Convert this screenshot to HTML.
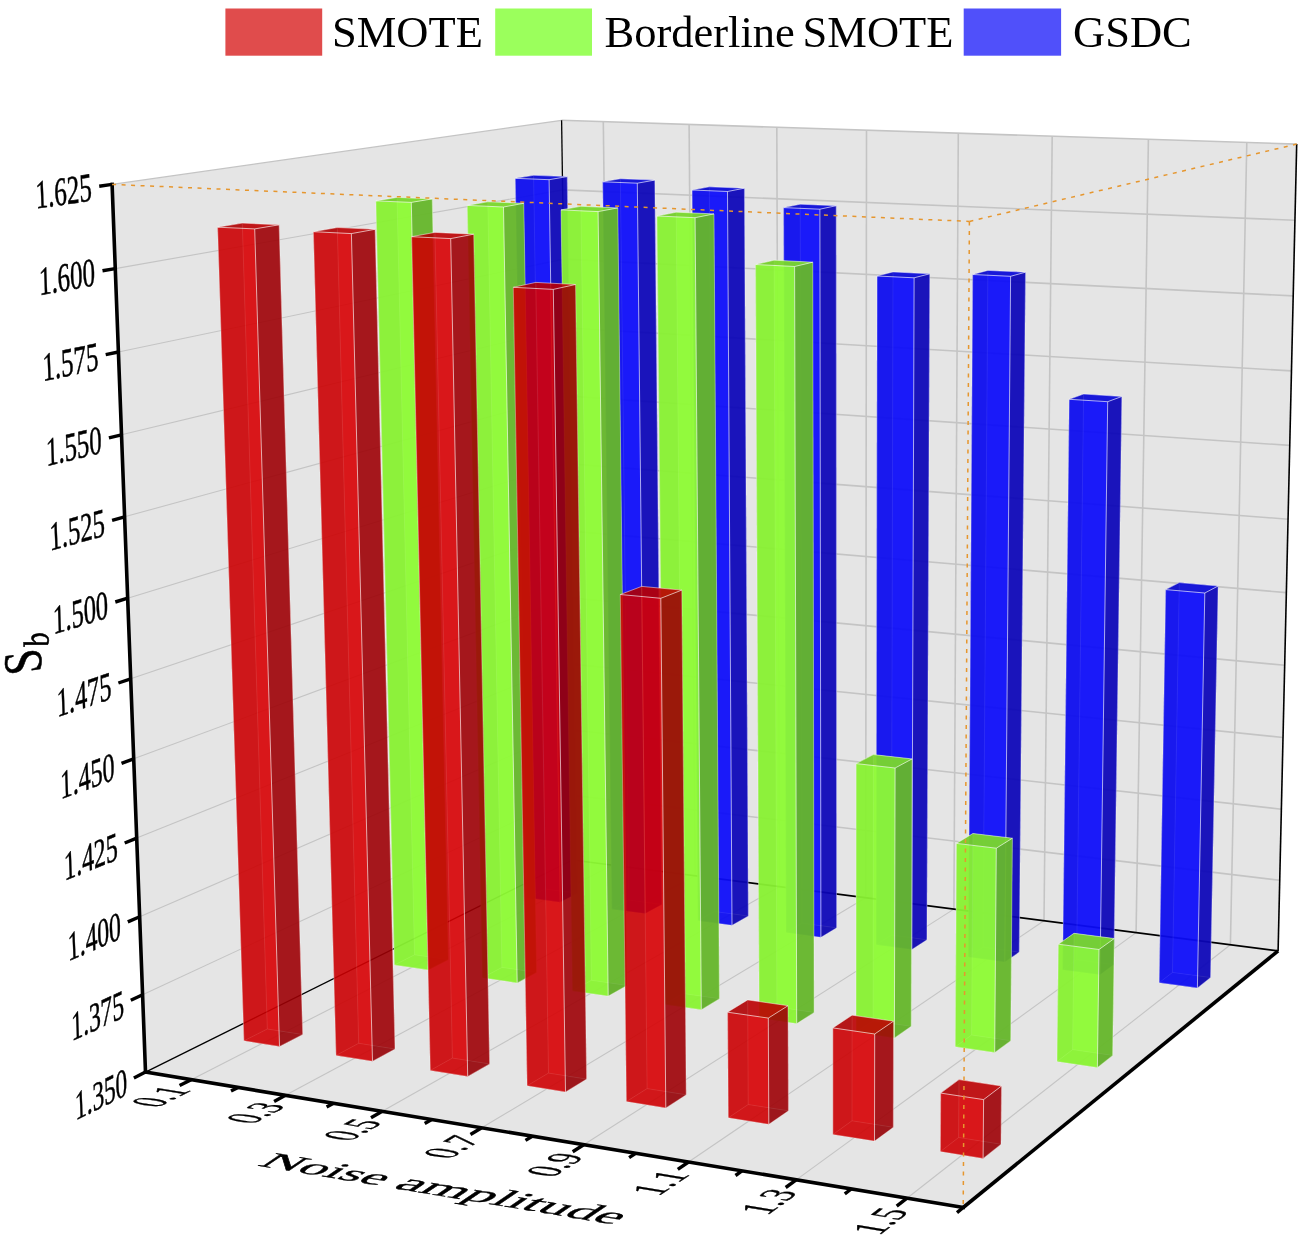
<!DOCTYPE html>
<html><head><meta charset="utf-8"><title>3D bar chart</title>
<style>html,body{margin:0;padding:0;background:#fff}svg{display:block}text{font-family:"Liberation Serif","Times New Roman",serif;fill:#000}</style>
</head><body>
<svg width="1301" height="1239" viewBox="0 0 1301 1239">
<rect width="1301" height="1239" fill="#fff"/>
<polygon points="145.5,1072.1 572.4,860.0 561.6,120.3 112.1,184.4" fill="#e5e5e5" />
<polygon points="572.4,860.0 1278.1,950.9 1296.7,144.1 561.6,120.3" fill="#e5e5e5" />
<polygon points="145.5,1072.1 963.2,1207.5 1278.1,950.9 572.4,860.0" fill="#e5e5e5" />
<line x1="142.6" y1="994.8" x2="571.5" y2="795.1" stroke="#c4c4c4" stroke-width="1.1" />
<line x1="571.5" y1="795.1" x2="1279.7" y2="880.3" stroke="#c4c4c4" stroke-width="1.6" />
<line x1="139.7" y1="916.8" x2="570.5" y2="729.7" stroke="#c4c4c4" stroke-width="1.1" />
<line x1="570.5" y1="729.7" x2="1281.4" y2="809.2" stroke="#c4c4c4" stroke-width="1.6" />
<line x1="136.7" y1="838.1" x2="569.6" y2="663.9" stroke="#c4c4c4" stroke-width="1.1" />
<line x1="569.6" y1="663.9" x2="1283.0" y2="737.5" stroke="#c4c4c4" stroke-width="1.6" />
<line x1="133.7" y1="758.8" x2="568.6" y2="597.6" stroke="#c4c4c4" stroke-width="1.1" />
<line x1="568.6" y1="597.6" x2="1284.7" y2="665.3" stroke="#c4c4c4" stroke-width="1.6" />
<line x1="130.7" y1="678.8" x2="567.6" y2="530.9" stroke="#c4c4c4" stroke-width="1.1" />
<line x1="567.6" y1="530.9" x2="1286.3" y2="592.6" stroke="#c4c4c4" stroke-width="1.6" />
<line x1="127.7" y1="598.2" x2="566.7" y2="463.6" stroke="#c4c4c4" stroke-width="1.1" />
<line x1="566.7" y1="463.6" x2="1288.0" y2="519.2" stroke="#c4c4c4" stroke-width="1.6" />
<line x1="124.6" y1="516.8" x2="565.7" y2="395.9" stroke="#c4c4c4" stroke-width="1.1" />
<line x1="565.7" y1="395.9" x2="1289.7" y2="445.4" stroke="#c4c4c4" stroke-width="1.6" />
<line x1="121.5" y1="434.8" x2="564.7" y2="327.8" stroke="#c4c4c4" stroke-width="1.1" />
<line x1="564.7" y1="327.8" x2="1291.4" y2="370.9" stroke="#c4c4c4" stroke-width="1.6" />
<line x1="118.4" y1="352.0" x2="563.7" y2="259.1" stroke="#c4c4c4" stroke-width="1.1" />
<line x1="563.7" y1="259.1" x2="1293.2" y2="295.9" stroke="#c4c4c4" stroke-width="1.6" />
<line x1="115.3" y1="268.6" x2="562.7" y2="189.9" stroke="#c4c4c4" stroke-width="1.1" />
<line x1="562.7" y1="189.9" x2="1294.9" y2="220.3" stroke="#c4c4c4" stroke-width="1.6" />
<line x1="612.5" y1="865.2" x2="603.3" y2="121.6" stroke="#c4c4c4" stroke-width="1.6" />
<line x1="191.2" y1="1079.7" x2="612.5" y2="865.2" stroke="#c4c4c4" stroke-width="1.1" />
<line x1="695.1" y1="875.8" x2="689.1" y2="124.4" stroke="#c4c4c4" stroke-width="1.6" />
<line x1="285.5" y1="1095.3" x2="695.1" y2="875.8" stroke="#c4c4c4" stroke-width="1.1" />
<line x1="779.5" y1="886.7" x2="776.8" y2="127.3" stroke="#c4c4c4" stroke-width="1.6" />
<line x1="382.3" y1="1111.3" x2="779.5" y2="886.7" stroke="#c4c4c4" stroke-width="1.1" />
<line x1="865.7" y1="897.8" x2="866.5" y2="130.2" stroke="#c4c4c4" stroke-width="1.6" />
<line x1="481.7" y1="1127.8" x2="865.7" y2="897.8" stroke="#c4c4c4" stroke-width="1.1" />
<line x1="953.9" y1="909.1" x2="958.3" y2="133.1" stroke="#c4c4c4" stroke-width="1.6" />
<line x1="583.7" y1="1144.7" x2="953.9" y2="909.1" stroke="#c4c4c4" stroke-width="1.1" />
<line x1="1044.0" y1="920.7" x2="1052.2" y2="136.2" stroke="#c4c4c4" stroke-width="1.6" />
<line x1="688.5" y1="1162.0" x2="1044.0" y2="920.7" stroke="#c4c4c4" stroke-width="1.1" />
<line x1="1136.1" y1="932.6" x2="1148.4" y2="139.3" stroke="#c4c4c4" stroke-width="1.6" />
<line x1="796.2" y1="1179.9" x2="1136.1" y2="932.6" stroke="#c4c4c4" stroke-width="1.1" />
<line x1="1230.4" y1="944.7" x2="1246.8" y2="142.4" stroke="#c4c4c4" stroke-width="1.6" />
<line x1="907.0" y1="1198.2" x2="1230.4" y2="944.7" stroke="#c4c4c4" stroke-width="1.1" />
<line x1="112.1" y1="184.4" x2="561.6" y2="120.3" stroke="#c4c4c4" stroke-width="1.2" />
<line x1="561.6" y1="120.3" x2="1296.7" y2="144.1" stroke="#c4c4c4" stroke-width="1.6" />
<line x1="572.4" y1="860.0" x2="561.6" y2="120.3" stroke="#000" stroke-width="1.3" />
<line x1="145.5" y1="1072.1" x2="572.4" y2="860.0" stroke="#000" stroke-width="1.3" />
<line x1="572.4" y1="860.0" x2="1278.1" y2="950.9" stroke="#000" stroke-width="1.6" />
<line x1="1278.1" y1="950.9" x2="1296.7" y2="144.1" stroke="#000" stroke-width="1.6" />
<g>
<polygon points="527.5,897.8 560.2,902.2 577.5,893.3 545.0,889.0" fill="rgba(10,10,207,0.75)" />
<polygon points="545.0,889.0 577.5,893.3 567.2,176.6 533.6,175.3" fill="rgba(12,12,249,0.75)" />
<polygon points="527.5,897.8 545.0,889.0 533.6,175.3 515.3,178.3" fill="rgba(9,9,194,0.75)" />
<line x1="545.0" y1="889.0" x2="533.6" y2="175.3" stroke="rgba(255,255,255,0.35)" stroke-width="0.8" />
<line x1="527.5" y1="897.8" x2="545.0" y2="889.0" stroke="rgba(255,255,255,0.35)" stroke-width="0.8" />
<line x1="545.0" y1="889.0" x2="577.5" y2="893.3" stroke="rgba(255,255,255,0.35)" stroke-width="0.8" />
<polygon points="527.5,897.8 560.2,902.2 549.1,179.7 515.3,178.3" fill="rgba(12,12,249,0.75)" />
<polygon points="560.2,902.2 577.5,893.3 567.2,176.6 549.1,179.7" fill="rgba(12,4,167,0.75)" />
<polygon points="515.3,178.3 549.1,179.7 567.2,176.6 533.6,175.3" fill="rgba(10,10,207,0.75)" />
<line x1="560.2" y1="902.2" x2="549.1" y2="179.7" stroke="rgba(255,255,255,0.7)" stroke-width="0.9" />
<line x1="515.3" y1="178.3" x2="549.1" y2="179.7" stroke="rgba(255,255,255,0.7)" stroke-width="0.9" />
<line x1="549.1" y1="179.7" x2="567.2" y2="176.6" stroke="rgba(255,255,255,0.7)" stroke-width="0.9" />
<line x1="515.3" y1="178.3" x2="533.6" y2="175.3" stroke="rgba(255,255,255,0.7)" stroke-width="0.7" />
<line x1="533.6" y1="175.3" x2="567.2" y2="176.6" stroke="rgba(255,255,255,0.7)" stroke-width="0.7" />
<line x1="527.5" y1="897.8" x2="515.3" y2="178.3" stroke="rgba(255,255,255,0.45)" stroke-width="0.8" />
<line x1="577.5" y1="893.3" x2="567.2" y2="176.6" stroke="rgba(255,255,255,0.45)" stroke-width="0.8" />
<line x1="527.5" y1="897.8" x2="560.2" y2="902.2" stroke="rgba(255,255,255,0.45)" stroke-width="0.7" />
<line x1="560.2" y1="902.2" x2="577.5" y2="893.3" stroke="rgba(255,255,255,0.45)" stroke-width="0.7" />
</g>
<g>
<polygon points="611.8,909.2 645.2,913.6 661.9,904.6 628.8,900.1" fill="rgba(10,10,207,0.75)" />
<polygon points="628.8,900.1 661.9,904.6 654.8,180.1 620.4,178.7" fill="rgba(12,12,249,0.75)" />
<polygon points="611.8,909.2 628.8,900.1 620.4,178.7 602.7,181.8" fill="rgba(9,9,194,0.75)" />
<line x1="628.8" y1="900.1" x2="620.4" y2="178.7" stroke="rgba(255,255,255,0.35)" stroke-width="0.8" />
<line x1="611.8" y1="909.2" x2="628.8" y2="900.1" stroke="rgba(255,255,255,0.35)" stroke-width="0.8" />
<line x1="628.8" y1="900.1" x2="661.9" y2="904.6" stroke="rgba(255,255,255,0.35)" stroke-width="0.8" />
<polygon points="611.8,909.2 645.2,913.6 637.3,183.2 602.7,181.8" fill="rgba(12,12,249,0.75)" />
<polygon points="645.2,913.6 661.9,904.6 654.8,180.1 637.3,183.2" fill="rgba(12,4,167,0.75)" />
<polygon points="602.7,181.8 637.3,183.2 654.8,180.1 620.4,178.7" fill="rgba(10,10,207,0.75)" />
<line x1="645.2" y1="913.6" x2="637.3" y2="183.2" stroke="rgba(255,255,255,0.7)" stroke-width="0.9" />
<line x1="602.7" y1="181.8" x2="637.3" y2="183.2" stroke="rgba(255,255,255,0.7)" stroke-width="0.9" />
<line x1="637.3" y1="183.2" x2="654.8" y2="180.1" stroke="rgba(255,255,255,0.7)" stroke-width="0.9" />
<line x1="602.7" y1="181.8" x2="620.4" y2="178.7" stroke="rgba(255,255,255,0.7)" stroke-width="0.7" />
<line x1="620.4" y1="178.7" x2="654.8" y2="180.1" stroke="rgba(255,255,255,0.7)" stroke-width="0.7" />
<line x1="611.8" y1="909.2" x2="602.7" y2="181.8" stroke="rgba(255,255,255,0.45)" stroke-width="0.8" />
<line x1="661.9" y1="904.6" x2="654.8" y2="180.1" stroke="rgba(255,255,255,0.45)" stroke-width="0.8" />
<line x1="611.8" y1="909.2" x2="645.2" y2="913.6" stroke="rgba(255,255,255,0.45)" stroke-width="0.7" />
<line x1="645.2" y1="913.6" x2="661.9" y2="904.6" stroke="rgba(255,255,255,0.45)" stroke-width="0.7" />
</g>
<g>
<polygon points="697.9,920.7 732.0,925.3 748.3,916.0 714.4,911.5" fill="rgba(10,10,207,0.75)" />
<polygon points="714.4,911.5 748.3,916.0 744.4,188.2 709.3,186.8" fill="rgba(12,12,249,0.75)" />
<polygon points="697.9,920.7 714.4,911.5 709.3,186.8 692.1,190.0" fill="rgba(9,9,194,0.75)" />
<line x1="714.4" y1="911.5" x2="709.3" y2="186.8" stroke="rgba(255,255,255,0.35)" stroke-width="0.8" />
<line x1="697.9" y1="920.7" x2="714.4" y2="911.5" stroke="rgba(255,255,255,0.35)" stroke-width="0.8" />
<line x1="714.4" y1="911.5" x2="748.3" y2="916.0" stroke="rgba(255,255,255,0.35)" stroke-width="0.8" />
<polygon points="697.9,920.7 732.0,925.3 727.5,191.5 692.1,190.0" fill="rgba(12,12,249,0.75)" />
<polygon points="732.0,925.3 748.3,916.0 744.4,188.2 727.5,191.5" fill="rgba(12,4,167,0.75)" />
<polygon points="692.1,190.0 727.5,191.5 744.4,188.2 709.3,186.8" fill="rgba(10,10,207,0.75)" />
<line x1="732.0" y1="925.3" x2="727.5" y2="191.5" stroke="rgba(255,255,255,0.7)" stroke-width="0.9" />
<line x1="692.1" y1="190.0" x2="727.5" y2="191.5" stroke="rgba(255,255,255,0.7)" stroke-width="0.9" />
<line x1="727.5" y1="191.5" x2="744.4" y2="188.2" stroke="rgba(255,255,255,0.7)" stroke-width="0.9" />
<line x1="692.1" y1="190.0" x2="709.3" y2="186.8" stroke="rgba(255,255,255,0.7)" stroke-width="0.7" />
<line x1="709.3" y1="186.8" x2="744.4" y2="188.2" stroke="rgba(255,255,255,0.7)" stroke-width="0.7" />
<line x1="697.9" y1="920.7" x2="692.1" y2="190.0" stroke="rgba(255,255,255,0.45)" stroke-width="0.8" />
<line x1="748.3" y1="916.0" x2="744.4" y2="188.2" stroke="rgba(255,255,255,0.45)" stroke-width="0.8" />
<line x1="697.9" y1="920.7" x2="732.0" y2="925.3" stroke="rgba(255,255,255,0.45)" stroke-width="0.7" />
<line x1="732.0" y1="925.3" x2="748.3" y2="916.0" stroke="rgba(255,255,255,0.45)" stroke-width="0.7" />
</g>
<g>
<polygon points="786.0,932.6 820.9,937.3 836.6,927.8 801.9,923.2" fill="rgba(10,10,207,0.75)" />
<polygon points="801.9,923.2 836.6,927.8 836.2,205.7 800.2,204.2" fill="rgba(12,12,249,0.75)" />
<polygon points="786.0,932.6 801.9,923.2 800.2,204.2 783.6,207.6" fill="rgba(9,9,194,0.75)" />
<line x1="801.9" y1="923.2" x2="800.2" y2="204.2" stroke="rgba(255,255,255,0.35)" stroke-width="0.8" />
<line x1="786.0" y1="932.6" x2="801.9" y2="923.2" stroke="rgba(255,255,255,0.35)" stroke-width="0.8" />
<line x1="801.9" y1="923.2" x2="836.6" y2="927.8" stroke="rgba(255,255,255,0.35)" stroke-width="0.8" />
<polygon points="786.0,932.6 820.9,937.3 819.9,209.2 783.6,207.6" fill="rgba(12,12,249,0.75)" />
<polygon points="820.9,937.3 836.6,927.8 836.2,205.7 819.9,209.2" fill="rgba(12,4,167,0.75)" />
<polygon points="783.6,207.6 819.9,209.2 836.2,205.7 800.2,204.2" fill="rgba(10,10,207,0.75)" />
<line x1="820.9" y1="937.3" x2="819.9" y2="209.2" stroke="rgba(255,255,255,0.7)" stroke-width="0.9" />
<line x1="783.6" y1="207.6" x2="819.9" y2="209.2" stroke="rgba(255,255,255,0.7)" stroke-width="0.9" />
<line x1="819.9" y1="209.2" x2="836.2" y2="205.7" stroke="rgba(255,255,255,0.7)" stroke-width="0.9" />
<line x1="783.6" y1="207.6" x2="800.2" y2="204.2" stroke="rgba(255,255,255,0.7)" stroke-width="0.7" />
<line x1="800.2" y1="204.2" x2="836.2" y2="205.7" stroke="rgba(255,255,255,0.7)" stroke-width="0.7" />
<line x1="786.0" y1="932.6" x2="783.6" y2="207.6" stroke="rgba(255,255,255,0.45)" stroke-width="0.8" />
<line x1="836.6" y1="927.8" x2="836.2" y2="205.7" stroke="rgba(255,255,255,0.45)" stroke-width="0.8" />
<line x1="786.0" y1="932.6" x2="820.9" y2="937.3" stroke="rgba(255,255,255,0.45)" stroke-width="0.7" />
<line x1="820.9" y1="937.3" x2="836.6" y2="927.8" stroke="rgba(255,255,255,0.45)" stroke-width="0.7" />
</g>
<g>
<polygon points="876.1,944.7 911.8,949.5 926.9,939.8 891.4,935.1" fill="rgba(10,10,207,0.75)" />
<polygon points="891.4,935.1 926.9,939.8 929.7,273.8 893.0,271.9" fill="rgba(12,12,249,0.75)" />
<polygon points="876.1,944.7 891.4,935.1 893.0,271.9 877.1,276.0" fill="rgba(9,9,194,0.75)" />
<line x1="891.4" y1="935.1" x2="893.0" y2="271.9" stroke="rgba(255,255,255,0.35)" stroke-width="0.8" />
<line x1="876.1" y1="944.7" x2="891.4" y2="935.1" stroke="rgba(255,255,255,0.35)" stroke-width="0.8" />
<line x1="891.4" y1="935.1" x2="926.9" y2="939.8" stroke="rgba(255,255,255,0.35)" stroke-width="0.8" />
<polygon points="876.1,944.7 911.8,949.5 914.1,277.8 877.1,276.0" fill="rgba(12,12,249,0.75)" />
<polygon points="911.8,949.5 926.9,939.8 929.7,273.8 914.1,277.8" fill="rgba(12,4,167,0.75)" />
<polygon points="877.1,276.0 914.1,277.8 929.7,273.8 893.0,271.9" fill="rgba(10,10,207,0.75)" />
<line x1="911.8" y1="949.5" x2="914.1" y2="277.8" stroke="rgba(255,255,255,0.7)" stroke-width="0.9" />
<line x1="877.1" y1="276.0" x2="914.1" y2="277.8" stroke="rgba(255,255,255,0.7)" stroke-width="0.9" />
<line x1="914.1" y1="277.8" x2="929.7" y2="273.8" stroke="rgba(255,255,255,0.7)" stroke-width="0.9" />
<line x1="877.1" y1="276.0" x2="893.0" y2="271.9" stroke="rgba(255,255,255,0.7)" stroke-width="0.7" />
<line x1="893.0" y1="271.9" x2="929.7" y2="273.8" stroke="rgba(255,255,255,0.7)" stroke-width="0.7" />
<line x1="876.1" y1="944.7" x2="877.1" y2="276.0" stroke="rgba(255,255,255,0.45)" stroke-width="0.8" />
<line x1="926.9" y1="939.8" x2="929.7" y2="273.8" stroke="rgba(255,255,255,0.45)" stroke-width="0.8" />
<line x1="876.1" y1="944.7" x2="911.8" y2="949.5" stroke="rgba(255,255,255,0.45)" stroke-width="0.7" />
<line x1="911.8" y1="949.5" x2="926.9" y2="939.8" stroke="rgba(255,255,255,0.45)" stroke-width="0.7" />
</g>
<g>
<polygon points="968.3,957.1 1004.8,962.0 1019.2,952.1 983.0,947.2" fill="rgba(10,10,207,0.75)" />
<polygon points="983.0,947.2 1019.2,952.1 1025.5,272.2 987.9,270.4" fill="rgba(12,12,249,0.75)" />
<polygon points="968.3,957.1 983.0,947.2 987.9,270.4 972.7,274.5" fill="rgba(9,9,194,0.75)" />
<line x1="983.0" y1="947.2" x2="987.9" y2="270.4" stroke="rgba(255,255,255,0.35)" stroke-width="0.8" />
<line x1="968.3" y1="957.1" x2="983.0" y2="947.2" stroke="rgba(255,255,255,0.35)" stroke-width="0.8" />
<line x1="983.0" y1="947.2" x2="1019.2" y2="952.1" stroke="rgba(255,255,255,0.35)" stroke-width="0.8" />
<polygon points="968.3,957.1 1004.8,962.0 1010.6,276.3 972.7,274.5" fill="rgba(12,12,249,0.75)" />
<polygon points="1004.8,962.0 1019.2,952.1 1025.5,272.2 1010.6,276.3" fill="rgba(12,4,167,0.75)" />
<polygon points="972.7,274.5 1010.6,276.3 1025.5,272.2 987.9,270.4" fill="rgba(10,10,207,0.75)" />
<line x1="1004.8" y1="962.0" x2="1010.6" y2="276.3" stroke="rgba(255,255,255,0.7)" stroke-width="0.9" />
<line x1="972.7" y1="274.5" x2="1010.6" y2="276.3" stroke="rgba(255,255,255,0.7)" stroke-width="0.9" />
<line x1="1010.6" y1="276.3" x2="1025.5" y2="272.2" stroke="rgba(255,255,255,0.7)" stroke-width="0.9" />
<line x1="972.7" y1="274.5" x2="987.9" y2="270.4" stroke="rgba(255,255,255,0.7)" stroke-width="0.7" />
<line x1="987.9" y1="270.4" x2="1025.5" y2="272.2" stroke="rgba(255,255,255,0.7)" stroke-width="0.7" />
<line x1="968.3" y1="957.1" x2="972.7" y2="274.5" stroke="rgba(255,255,255,0.45)" stroke-width="0.8" />
<line x1="1019.2" y1="952.1" x2="1025.5" y2="272.2" stroke="rgba(255,255,255,0.45)" stroke-width="0.8" />
<line x1="968.3" y1="957.1" x2="1004.8" y2="962.0" stroke="rgba(255,255,255,0.45)" stroke-width="0.7" />
<line x1="1004.8" y1="962.0" x2="1019.2" y2="952.1" stroke="rgba(255,255,255,0.45)" stroke-width="0.7" />
</g>
<g>
<polygon points="1062.6,969.8 1100.0,974.8 1113.8,964.6 1076.6,959.7" fill="rgba(10,10,207,0.75)" />
<polygon points="1076.6,959.7 1113.8,964.6 1121.8,396.5 1083.6,394.0" fill="rgba(12,12,249,0.75)" />
<polygon points="1062.6,969.8 1076.6,959.7 1083.6,394.0 1069.2,399.3" fill="rgba(9,9,194,0.75)" />
<line x1="1076.6" y1="959.7" x2="1083.6" y2="394.0" stroke="rgba(255,255,255,0.35)" stroke-width="0.8" />
<line x1="1062.6" y1="969.8" x2="1076.6" y2="959.7" stroke="rgba(255,255,255,0.35)" stroke-width="0.8" />
<line x1="1076.6" y1="959.7" x2="1113.8" y2="964.6" stroke="rgba(255,255,255,0.35)" stroke-width="0.8" />
<polygon points="1062.6,969.8 1100.0,974.8 1107.7,401.7 1069.2,399.3" fill="rgba(12,12,249,0.75)" />
<polygon points="1100.0,974.8 1113.8,964.6 1121.8,396.5 1107.7,401.7" fill="rgba(12,4,167,0.75)" />
<polygon points="1069.2,399.3 1107.7,401.7 1121.8,396.5 1083.6,394.0" fill="rgba(10,10,207,0.75)" />
<line x1="1100.0" y1="974.8" x2="1107.7" y2="401.7" stroke="rgba(255,255,255,0.7)" stroke-width="0.9" />
<line x1="1069.2" y1="399.3" x2="1107.7" y2="401.7" stroke="rgba(255,255,255,0.7)" stroke-width="0.9" />
<line x1="1107.7" y1="401.7" x2="1121.8" y2="396.5" stroke="rgba(255,255,255,0.7)" stroke-width="0.9" />
<line x1="1069.2" y1="399.3" x2="1083.6" y2="394.0" stroke="rgba(255,255,255,0.7)" stroke-width="0.7" />
<line x1="1083.6" y1="394.0" x2="1121.8" y2="396.5" stroke="rgba(255,255,255,0.7)" stroke-width="0.7" />
<line x1="1062.6" y1="969.8" x2="1069.2" y2="399.3" stroke="rgba(255,255,255,0.45)" stroke-width="0.8" />
<line x1="1113.8" y1="964.6" x2="1121.8" y2="396.5" stroke="rgba(255,255,255,0.45)" stroke-width="0.8" />
<line x1="1062.6" y1="969.8" x2="1100.0" y2="974.8" stroke="rgba(255,255,255,0.45)" stroke-width="0.7" />
<line x1="1100.0" y1="974.8" x2="1113.8" y2="964.6" stroke="rgba(255,255,255,0.45)" stroke-width="0.7" />
</g>
<g>
<polygon points="1159.2,982.7 1197.4,987.9 1210.5,977.5 1172.5,972.4" fill="rgba(10,10,207,0.75)" />
<polygon points="1172.5,972.4 1210.5,977.5 1218.1,586.0 1179.3,582.6" fill="rgba(12,12,249,0.75)" />
<polygon points="1159.2,982.7 1172.5,972.4 1179.3,582.6 1165.7,589.6" fill="rgba(9,9,194,0.75)" />
<line x1="1172.5" y1="972.4" x2="1179.3" y2="582.6" stroke="rgba(255,255,255,0.35)" stroke-width="0.8" />
<line x1="1159.2" y1="982.7" x2="1172.5" y2="972.4" stroke="rgba(255,255,255,0.35)" stroke-width="0.8" />
<line x1="1172.5" y1="972.4" x2="1210.5" y2="977.5" stroke="rgba(255,255,255,0.35)" stroke-width="0.8" />
<polygon points="1159.2,982.7 1197.4,987.9 1204.8,593.0 1165.7,589.6" fill="rgba(12,12,249,0.75)" />
<polygon points="1197.4,987.9 1210.5,977.5 1218.1,586.0 1204.8,593.0" fill="rgba(12,4,167,0.75)" />
<polygon points="1165.7,589.6 1204.8,593.0 1218.1,586.0 1179.3,582.6" fill="rgba(10,10,207,0.75)" />
<line x1="1197.4" y1="987.9" x2="1204.8" y2="593.0" stroke="rgba(255,255,255,0.7)" stroke-width="0.9" />
<line x1="1165.7" y1="589.6" x2="1204.8" y2="593.0" stroke="rgba(255,255,255,0.7)" stroke-width="0.9" />
<line x1="1204.8" y1="593.0" x2="1218.1" y2="586.0" stroke="rgba(255,255,255,0.7)" stroke-width="0.9" />
<line x1="1165.7" y1="589.6" x2="1179.3" y2="582.6" stroke="rgba(255,255,255,0.7)" stroke-width="0.7" />
<line x1="1179.3" y1="582.6" x2="1218.1" y2="586.0" stroke="rgba(255,255,255,0.7)" stroke-width="0.7" />
<line x1="1159.2" y1="982.7" x2="1165.7" y2="589.6" stroke="rgba(255,255,255,0.45)" stroke-width="0.8" />
<line x1="1210.5" y1="977.5" x2="1218.1" y2="586.0" stroke="rgba(255,255,255,0.45)" stroke-width="0.8" />
<line x1="1159.2" y1="982.7" x2="1197.4" y2="987.9" stroke="rgba(255,255,255,0.45)" stroke-width="0.7" />
<line x1="1197.4" y1="987.9" x2="1210.5" y2="977.5" stroke="rgba(255,255,255,0.45)" stroke-width="0.7" />
</g>
<g>
<polygon points="394.4,965.0 428.4,969.9 448.4,959.7 414.5,954.8" fill="rgba(118,208,44,0.78)" />
<polygon points="414.5,954.8 448.4,959.7 432.2,198.9 397.0,197.4" fill="rgba(142,251,53,0.78)" />
<polygon points="394.4,965.0 414.5,954.8 397.0,197.4 375.9,200.9" fill="rgba(111,196,41,0.78)" />
<line x1="414.5" y1="954.8" x2="397.0" y2="197.4" stroke="rgba(255,255,255,0.35)" stroke-width="0.8" />
<line x1="394.4" y1="965.0" x2="414.5" y2="954.8" stroke="rgba(255,255,255,0.35)" stroke-width="0.8" />
<line x1="414.5" y1="954.8" x2="448.4" y2="959.7" stroke="rgba(255,255,255,0.35)" stroke-width="0.8" />
<polygon points="394.4,965.0 428.4,969.9 411.3,202.4 375.9,200.9" fill="rgba(142,251,53,0.78)" />
<polygon points="428.4,969.9 448.4,959.7 432.2,198.9 411.3,202.4" fill="rgba(93,168,41,0.78)" />
<polygon points="375.9,200.9 411.3,202.4 432.2,198.9 397.0,197.4" fill="rgba(118,208,44,0.78)" />
<line x1="428.4" y1="969.9" x2="411.3" y2="202.4" stroke="rgba(255,255,255,0.7)" stroke-width="0.9" />
<line x1="375.9" y1="200.9" x2="411.3" y2="202.4" stroke="rgba(255,255,255,0.7)" stroke-width="0.9" />
<line x1="411.3" y1="202.4" x2="432.2" y2="198.9" stroke="rgba(255,255,255,0.7)" stroke-width="0.9" />
<line x1="375.9" y1="200.9" x2="397.0" y2="197.4" stroke="rgba(255,255,255,0.7)" stroke-width="0.7" />
<line x1="397.0" y1="197.4" x2="432.2" y2="198.9" stroke="rgba(255,255,255,0.7)" stroke-width="0.7" />
<line x1="394.4" y1="965.0" x2="375.9" y2="200.9" stroke="rgba(255,255,255,0.45)" stroke-width="0.8" />
<line x1="448.4" y1="959.7" x2="432.2" y2="198.9" stroke="rgba(255,255,255,0.45)" stroke-width="0.8" />
<line x1="394.4" y1="965.0" x2="428.4" y2="969.9" stroke="rgba(255,255,255,0.45)" stroke-width="0.7" />
<line x1="428.4" y1="969.9" x2="448.4" y2="959.7" stroke="rgba(255,255,255,0.45)" stroke-width="0.7" />
</g>
<g>
<polygon points="482.3,977.8 517.2,982.9 536.6,972.4 501.9,967.4" fill="rgba(118,208,44,0.78)" />
<polygon points="501.9,967.4 536.6,972.4 523.8,203.3 487.8,201.8" fill="rgba(142,251,53,0.78)" />
<polygon points="482.3,977.8 501.9,967.4 487.8,201.8 467.3,205.4" fill="rgba(111,196,41,0.78)" />
<line x1="501.9" y1="967.4" x2="487.8" y2="201.8" stroke="rgba(255,255,255,0.35)" stroke-width="0.8" />
<line x1="482.3" y1="977.8" x2="501.9" y2="967.4" stroke="rgba(255,255,255,0.35)" stroke-width="0.8" />
<line x1="501.9" y1="967.4" x2="536.6" y2="972.4" stroke="rgba(255,255,255,0.35)" stroke-width="0.8" />
<polygon points="482.3,977.8 517.2,982.9 503.5,207.0 467.3,205.4" fill="rgba(142,251,53,0.78)" />
<polygon points="517.2,982.9 536.6,972.4 523.8,203.3 503.5,207.0" fill="rgba(93,168,41,0.78)" />
<polygon points="467.3,205.4 503.5,207.0 523.8,203.3 487.8,201.8" fill="rgba(118,208,44,0.78)" />
<line x1="517.2" y1="982.9" x2="503.5" y2="207.0" stroke="rgba(255,255,255,0.7)" stroke-width="0.9" />
<line x1="467.3" y1="205.4" x2="503.5" y2="207.0" stroke="rgba(255,255,255,0.7)" stroke-width="0.9" />
<line x1="503.5" y1="207.0" x2="523.8" y2="203.3" stroke="rgba(255,255,255,0.7)" stroke-width="0.9" />
<line x1="467.3" y1="205.4" x2="487.8" y2="201.8" stroke="rgba(255,255,255,0.7)" stroke-width="0.7" />
<line x1="487.8" y1="201.8" x2="523.8" y2="203.3" stroke="rgba(255,255,255,0.7)" stroke-width="0.7" />
<line x1="482.3" y1="977.8" x2="467.3" y2="205.4" stroke="rgba(255,255,255,0.45)" stroke-width="0.8" />
<line x1="536.6" y1="972.4" x2="523.8" y2="203.3" stroke="rgba(255,255,255,0.45)" stroke-width="0.8" />
<line x1="482.3" y1="977.8" x2="517.2" y2="982.9" stroke="rgba(255,255,255,0.45)" stroke-width="0.7" />
<line x1="517.2" y1="982.9" x2="536.6" y2="972.4" stroke="rgba(255,255,255,0.45)" stroke-width="0.7" />
</g>
<g>
<polygon points="572.4,990.9 608.2,996.1 626.9,985.4 591.4,980.3" fill="rgba(118,208,44,0.78)" />
<polygon points="591.4,980.3 626.9,985.4 617.8,207.9 580.9,206.3" fill="rgba(142,251,53,0.78)" />
<polygon points="572.4,990.9 591.4,980.3 580.9,206.3 561.0,209.9" fill="rgba(111,196,41,0.78)" />
<line x1="591.4" y1="980.3" x2="580.9" y2="206.3" stroke="rgba(255,255,255,0.35)" stroke-width="0.8" />
<line x1="572.4" y1="990.9" x2="591.4" y2="980.3" stroke="rgba(255,255,255,0.35)" stroke-width="0.8" />
<line x1="591.4" y1="980.3" x2="626.9" y2="985.4" stroke="rgba(255,255,255,0.35)" stroke-width="0.8" />
<polygon points="572.4,990.9 608.2,996.1 598.1,211.6 561.0,209.9" fill="rgba(142,251,53,0.78)" />
<polygon points="608.2,996.1 626.9,985.4 617.8,207.9 598.1,211.6" fill="rgba(93,168,41,0.78)" />
<polygon points="561.0,209.9 598.1,211.6 617.8,207.9 580.9,206.3" fill="rgba(118,208,44,0.78)" />
<line x1="608.2" y1="996.1" x2="598.1" y2="211.6" stroke="rgba(255,255,255,0.7)" stroke-width="0.9" />
<line x1="561.0" y1="209.9" x2="598.1" y2="211.6" stroke="rgba(255,255,255,0.7)" stroke-width="0.9" />
<line x1="598.1" y1="211.6" x2="617.8" y2="207.9" stroke="rgba(255,255,255,0.7)" stroke-width="0.9" />
<line x1="561.0" y1="209.9" x2="580.9" y2="206.3" stroke="rgba(255,255,255,0.7)" stroke-width="0.7" />
<line x1="580.9" y1="206.3" x2="617.8" y2="207.9" stroke="rgba(255,255,255,0.7)" stroke-width="0.7" />
<line x1="572.4" y1="990.9" x2="561.0" y2="209.9" stroke="rgba(255,255,255,0.45)" stroke-width="0.8" />
<line x1="626.9" y1="985.4" x2="617.8" y2="207.9" stroke="rgba(255,255,255,0.45)" stroke-width="0.8" />
<line x1="572.4" y1="990.9" x2="608.2" y2="996.1" stroke="rgba(255,255,255,0.45)" stroke-width="0.7" />
<line x1="608.2" y1="996.1" x2="626.9" y2="985.4" stroke="rgba(255,255,255,0.45)" stroke-width="0.7" />
</g>
<g>
<polygon points="664.7,1004.4 701.3,1009.7 719.4,998.7 683.1,993.5" fill="rgba(118,208,44,0.78)" />
<polygon points="683.1,993.5 719.4,998.7 714.0,213.9 676.2,212.2" fill="rgba(142,251,53,0.78)" />
<polygon points="664.7,1004.4 683.1,993.5 676.2,212.2 657.0,216.0" fill="rgba(111,196,41,0.78)" />
<line x1="683.1" y1="993.5" x2="676.2" y2="212.2" stroke="rgba(255,255,255,0.35)" stroke-width="0.8" />
<line x1="664.7" y1="1004.4" x2="683.1" y2="993.5" stroke="rgba(255,255,255,0.35)" stroke-width="0.8" />
<line x1="683.1" y1="993.5" x2="719.4" y2="998.7" stroke="rgba(255,255,255,0.35)" stroke-width="0.8" />
<polygon points="664.7,1004.4 701.3,1009.7 695.1,217.7 657.0,216.0" fill="rgba(142,251,53,0.78)" />
<polygon points="701.3,1009.7 719.4,998.7 714.0,213.9 695.1,217.7" fill="rgba(93,168,41,0.78)" />
<polygon points="657.0,216.0 695.1,217.7 714.0,213.9 676.2,212.2" fill="rgba(118,208,44,0.78)" />
<line x1="701.3" y1="1009.7" x2="695.1" y2="217.7" stroke="rgba(255,255,255,0.7)" stroke-width="0.9" />
<line x1="657.0" y1="216.0" x2="695.1" y2="217.7" stroke="rgba(255,255,255,0.7)" stroke-width="0.9" />
<line x1="695.1" y1="217.7" x2="714.0" y2="213.9" stroke="rgba(255,255,255,0.7)" stroke-width="0.9" />
<line x1="657.0" y1="216.0" x2="676.2" y2="212.2" stroke="rgba(255,255,255,0.7)" stroke-width="0.7" />
<line x1="676.2" y1="212.2" x2="714.0" y2="213.9" stroke="rgba(255,255,255,0.7)" stroke-width="0.7" />
<line x1="664.7" y1="1004.4" x2="657.0" y2="216.0" stroke="rgba(255,255,255,0.45)" stroke-width="0.8" />
<line x1="719.4" y1="998.7" x2="714.0" y2="213.9" stroke="rgba(255,255,255,0.45)" stroke-width="0.8" />
<line x1="664.7" y1="1004.4" x2="701.3" y2="1009.7" stroke="rgba(255,255,255,0.45)" stroke-width="0.7" />
<line x1="701.3" y1="1009.7" x2="719.4" y2="998.7" stroke="rgba(255,255,255,0.45)" stroke-width="0.7" />
</g>
<g>
<polygon points="759.2,1018.2 796.7,1023.6 814.1,1012.4 776.9,1007.0" fill="rgba(118,208,44,0.78)" />
<polygon points="776.9,1007.0 814.1,1012.4 812.8,262.2 774.1,260.2" fill="rgba(142,251,53,0.78)" />
<polygon points="759.2,1018.2 776.9,1007.0 774.1,260.2 755.6,264.5" fill="rgba(111,196,41,0.78)" />
<line x1="776.9" y1="1007.0" x2="774.1" y2="260.2" stroke="rgba(255,255,255,0.35)" stroke-width="0.8" />
<line x1="759.2" y1="1018.2" x2="776.9" y2="1007.0" stroke="rgba(255,255,255,0.35)" stroke-width="0.8" />
<line x1="776.9" y1="1007.0" x2="814.1" y2="1012.4" stroke="rgba(255,255,255,0.35)" stroke-width="0.8" />
<polygon points="759.2,1018.2 796.7,1023.6 794.6,266.5 755.6,264.5" fill="rgba(142,251,53,0.78)" />
<polygon points="796.7,1023.6 814.1,1012.4 812.8,262.2 794.6,266.5" fill="rgba(93,168,41,0.78)" />
<polygon points="755.6,264.5 794.6,266.5 812.8,262.2 774.1,260.2" fill="rgba(118,208,44,0.78)" />
<line x1="796.7" y1="1023.6" x2="794.6" y2="266.5" stroke="rgba(255,255,255,0.7)" stroke-width="0.9" />
<line x1="755.6" y1="264.5" x2="794.6" y2="266.5" stroke="rgba(255,255,255,0.7)" stroke-width="0.9" />
<line x1="794.6" y1="266.5" x2="812.8" y2="262.2" stroke="rgba(255,255,255,0.7)" stroke-width="0.9" />
<line x1="755.6" y1="264.5" x2="774.1" y2="260.2" stroke="rgba(255,255,255,0.7)" stroke-width="0.7" />
<line x1="774.1" y1="260.2" x2="812.8" y2="262.2" stroke="rgba(255,255,255,0.7)" stroke-width="0.7" />
<line x1="759.2" y1="1018.2" x2="755.6" y2="264.5" stroke="rgba(255,255,255,0.45)" stroke-width="0.8" />
<line x1="814.1" y1="1012.4" x2="812.8" y2="262.2" stroke="rgba(255,255,255,0.45)" stroke-width="0.8" />
<line x1="759.2" y1="1018.2" x2="796.7" y2="1023.6" stroke="rgba(255,255,255,0.45)" stroke-width="0.7" />
<line x1="796.7" y1="1023.6" x2="814.1" y2="1012.4" stroke="rgba(255,255,255,0.45)" stroke-width="0.7" />
</g>
<g>
<polygon points="856.0,1032.3 894.4,1037.9 911.2,1026.3 873.1,1020.9" fill="rgba(118,208,44,0.78)" />
<polygon points="873.1,1020.9 911.2,1026.3 912.1,758.9 873.4,754.6" fill="rgba(142,251,53,0.78)" />
<polygon points="856.0,1032.3 873.1,1020.9 873.4,754.6 856.2,763.6" fill="rgba(111,196,41,0.78)" />
<line x1="873.1" y1="1020.9" x2="873.4" y2="754.6" stroke="rgba(255,255,255,0.35)" stroke-width="0.8" />
<line x1="856.0" y1="1032.3" x2="873.1" y2="1020.9" stroke="rgba(255,255,255,0.35)" stroke-width="0.8" />
<line x1="873.1" y1="1020.9" x2="911.2" y2="1026.3" stroke="rgba(255,255,255,0.35)" stroke-width="0.8" />
<polygon points="856.0,1032.3 894.4,1037.9 895.1,768.0 856.2,763.6" fill="rgba(142,251,53,0.78)" />
<polygon points="894.4,1037.9 911.2,1026.3 912.1,758.9 895.1,768.0" fill="rgba(93,168,41,0.78)" />
<polygon points="856.2,763.6 895.1,768.0 912.1,758.9 873.4,754.6" fill="rgba(118,208,44,0.78)" />
<line x1="894.4" y1="1037.9" x2="895.1" y2="768.0" stroke="rgba(255,255,255,0.7)" stroke-width="0.9" />
<line x1="856.2" y1="763.6" x2="895.1" y2="768.0" stroke="rgba(255,255,255,0.7)" stroke-width="0.9" />
<line x1="895.1" y1="768.0" x2="912.1" y2="758.9" stroke="rgba(255,255,255,0.7)" stroke-width="0.9" />
<line x1="856.2" y1="763.6" x2="873.4" y2="754.6" stroke="rgba(255,255,255,0.7)" stroke-width="0.7" />
<line x1="873.4" y1="754.6" x2="912.1" y2="758.9" stroke="rgba(255,255,255,0.7)" stroke-width="0.7" />
<line x1="856.0" y1="1032.3" x2="856.2" y2="763.6" stroke="rgba(255,255,255,0.45)" stroke-width="0.8" />
<line x1="911.2" y1="1026.3" x2="912.1" y2="758.9" stroke="rgba(255,255,255,0.45)" stroke-width="0.8" />
<line x1="856.0" y1="1032.3" x2="894.4" y2="1037.9" stroke="rgba(255,255,255,0.45)" stroke-width="0.7" />
<line x1="894.4" y1="1037.9" x2="911.2" y2="1026.3" stroke="rgba(255,255,255,0.45)" stroke-width="0.7" />
</g>
<g>
<polygon points="955.3,1046.7 994.7,1052.5 1010.7,1040.7 971.6,1035.0" fill="rgba(118,208,44,0.78)" />
<polygon points="971.6,1035.0 1010.7,1040.7 1012.4,838.2 972.9,833.5" fill="rgba(142,251,53,0.78)" />
<polygon points="955.3,1046.7 971.6,1035.0 972.9,833.5 956.5,843.4" fill="rgba(111,196,41,0.78)" />
<line x1="971.6" y1="1035.0" x2="972.9" y2="833.5" stroke="rgba(255,255,255,0.35)" stroke-width="0.8" />
<line x1="955.3" y1="1046.7" x2="971.6" y2="1035.0" stroke="rgba(255,255,255,0.35)" stroke-width="0.8" />
<line x1="971.6" y1="1035.0" x2="1010.7" y2="1040.7" stroke="rgba(255,255,255,0.35)" stroke-width="0.8" />
<polygon points="955.3,1046.7 994.7,1052.5 996.3,848.2 956.5,843.4" fill="rgba(142,251,53,0.78)" />
<polygon points="994.7,1052.5 1010.7,1040.7 1012.4,838.2 996.3,848.2" fill="rgba(93,168,41,0.78)" />
<polygon points="956.5,843.4 996.3,848.2 1012.4,838.2 972.9,833.5" fill="rgba(118,208,44,0.78)" />
<line x1="994.7" y1="1052.5" x2="996.3" y2="848.2" stroke="rgba(255,255,255,0.7)" stroke-width="0.9" />
<line x1="956.5" y1="843.4" x2="996.3" y2="848.2" stroke="rgba(255,255,255,0.7)" stroke-width="0.9" />
<line x1="996.3" y1="848.2" x2="1012.4" y2="838.2" stroke="rgba(255,255,255,0.7)" stroke-width="0.9" />
<line x1="956.5" y1="843.4" x2="972.9" y2="833.5" stroke="rgba(255,255,255,0.7)" stroke-width="0.7" />
<line x1="972.9" y1="833.5" x2="1012.4" y2="838.2" stroke="rgba(255,255,255,0.7)" stroke-width="0.7" />
<line x1="955.3" y1="1046.7" x2="956.5" y2="843.4" stroke="rgba(255,255,255,0.45)" stroke-width="0.8" />
<line x1="1010.7" y1="1040.7" x2="1012.4" y2="838.2" stroke="rgba(255,255,255,0.45)" stroke-width="0.8" />
<line x1="955.3" y1="1046.7" x2="994.7" y2="1052.5" stroke="rgba(255,255,255,0.45)" stroke-width="0.7" />
<line x1="994.7" y1="1052.5" x2="1010.7" y2="1040.7" stroke="rgba(255,255,255,0.45)" stroke-width="0.7" />
</g>
<g>
<polygon points="1057.0,1061.6 1097.4,1067.5 1112.6,1055.4 1072.6,1049.6" fill="rgba(118,208,44,0.78)" />
<polygon points="1072.6,1049.6 1112.6,1055.4 1114.3,938.5 1074.0,933.3" fill="rgba(142,251,53,0.78)" />
<polygon points="1057.0,1061.6 1072.6,1049.6 1074.0,933.3 1058.4,944.2" fill="rgba(111,196,41,0.78)" />
<line x1="1072.6" y1="1049.6" x2="1074.0" y2="933.3" stroke="rgba(255,255,255,0.35)" stroke-width="0.8" />
<line x1="1057.0" y1="1061.6" x2="1072.6" y2="1049.6" stroke="rgba(255,255,255,0.35)" stroke-width="0.8" />
<line x1="1072.6" y1="1049.6" x2="1112.6" y2="1055.4" stroke="rgba(255,255,255,0.35)" stroke-width="0.8" />
<polygon points="1057.0,1061.6 1097.4,1067.5 1099.0,949.5 1058.4,944.2" fill="rgba(142,251,53,0.78)" />
<polygon points="1097.4,1067.5 1112.6,1055.4 1114.3,938.5 1099.0,949.5" fill="rgba(93,168,41,0.78)" />
<polygon points="1058.4,944.2 1099.0,949.5 1114.3,938.5 1074.0,933.3" fill="rgba(118,208,44,0.78)" />
<line x1="1097.4" y1="1067.5" x2="1099.0" y2="949.5" stroke="rgba(255,255,255,0.7)" stroke-width="0.9" />
<line x1="1058.4" y1="944.2" x2="1099.0" y2="949.5" stroke="rgba(255,255,255,0.7)" stroke-width="0.9" />
<line x1="1099.0" y1="949.5" x2="1114.3" y2="938.5" stroke="rgba(255,255,255,0.7)" stroke-width="0.9" />
<line x1="1058.4" y1="944.2" x2="1074.0" y2="933.3" stroke="rgba(255,255,255,0.7)" stroke-width="0.7" />
<line x1="1074.0" y1="933.3" x2="1114.3" y2="938.5" stroke="rgba(255,255,255,0.7)" stroke-width="0.7" />
<line x1="1057.0" y1="1061.6" x2="1058.4" y2="944.2" stroke="rgba(255,255,255,0.45)" stroke-width="0.8" />
<line x1="1112.6" y1="1055.4" x2="1114.3" y2="938.5" stroke="rgba(255,255,255,0.45)" stroke-width="0.8" />
<line x1="1057.0" y1="1061.6" x2="1097.4" y2="1067.5" stroke="rgba(255,255,255,0.45)" stroke-width="0.7" />
<line x1="1097.4" y1="1067.5" x2="1112.6" y2="1055.4" stroke="rgba(255,255,255,0.45)" stroke-width="0.7" />
</g>
<g>
<polygon points="243.9,1040.8 279.5,1046.4 302.7,1034.5 267.3,1029.0" fill="rgba(178,0,2,0.68)" />
<polygon points="267.3,1029.0 302.7,1034.5 279.1,224.8 242.3,223.1" fill="rgba(215,0,3,0.68)" />
<polygon points="243.9,1040.8 267.3,1029.0 242.3,223.1 217.6,227.2" fill="rgba(168,0,2,0.68)" />
<line x1="267.3" y1="1029.0" x2="242.3" y2="223.1" stroke="rgba(255,255,255,0.35)" stroke-width="0.8" />
<line x1="243.9" y1="1040.8" x2="267.3" y2="1029.0" stroke="rgba(255,255,255,0.35)" stroke-width="0.8" />
<line x1="267.3" y1="1029.0" x2="302.7" y2="1034.5" stroke="rgba(255,255,255,0.35)" stroke-width="0.8" />
<polygon points="243.9,1040.8 279.5,1046.4 254.7,228.9 217.6,227.2" fill="rgba(215,0,3,0.68)" />
<polygon points="279.5,1046.4 302.7,1034.5 279.1,224.8 254.7,228.9" fill="rgba(139,0,6,0.68)" />
<polygon points="217.6,227.2 254.7,228.9 279.1,224.8 242.3,223.1" fill="rgba(178,0,2,0.68)" />
<line x1="279.5" y1="1046.4" x2="254.7" y2="228.9" stroke="rgba(255,255,255,0.7)" stroke-width="0.9" />
<line x1="217.6" y1="227.2" x2="254.7" y2="228.9" stroke="rgba(255,255,255,0.7)" stroke-width="0.9" />
<line x1="254.7" y1="228.9" x2="279.1" y2="224.8" stroke="rgba(255,255,255,0.7)" stroke-width="0.9" />
<line x1="217.6" y1="227.2" x2="242.3" y2="223.1" stroke="rgba(255,255,255,0.7)" stroke-width="0.7" />
<line x1="242.3" y1="223.1" x2="279.1" y2="224.8" stroke="rgba(255,255,255,0.7)" stroke-width="0.7" />
<line x1="243.9" y1="1040.8" x2="217.6" y2="227.2" stroke="rgba(255,255,255,0.45)" stroke-width="0.8" />
<line x1="302.7" y1="1034.5" x2="279.1" y2="224.8" stroke="rgba(255,255,255,0.45)" stroke-width="0.8" />
<line x1="243.9" y1="1040.8" x2="279.5" y2="1046.4" stroke="rgba(255,255,255,0.45)" stroke-width="0.7" />
<line x1="279.5" y1="1046.4" x2="302.7" y2="1034.5" stroke="rgba(255,255,255,0.45)" stroke-width="0.7" />
</g>
<g>
<polygon points="336.0,1055.4 372.5,1061.2 395.0,1049.0 358.7,1043.3" fill="rgba(178,0,2,0.68)" />
<polygon points="358.7,1043.3 395.0,1049.0 375.1,229.3 337.3,227.5" fill="rgba(215,0,3,0.68)" />
<polygon points="336.0,1055.4 358.7,1043.3 337.3,227.5 313.4,231.7" fill="rgba(168,0,2,0.68)" />
<line x1="358.7" y1="1043.3" x2="337.3" y2="227.5" stroke="rgba(255,255,255,0.35)" stroke-width="0.8" />
<line x1="336.0" y1="1055.4" x2="358.7" y2="1043.3" stroke="rgba(255,255,255,0.35)" stroke-width="0.8" />
<line x1="358.7" y1="1043.3" x2="395.0" y2="1049.0" stroke="rgba(255,255,255,0.35)" stroke-width="0.8" />
<polygon points="336.0,1055.4 372.5,1061.2 351.4,233.6 313.4,231.7" fill="rgba(215,0,3,0.68)" />
<polygon points="372.5,1061.2 395.0,1049.0 375.1,229.3 351.4,233.6" fill="rgba(139,0,6,0.68)" />
<polygon points="313.4,231.7 351.4,233.6 375.1,229.3 337.3,227.5" fill="rgba(178,0,2,0.68)" />
<line x1="372.5" y1="1061.2" x2="351.4" y2="233.6" stroke="rgba(255,255,255,0.7)" stroke-width="0.9" />
<line x1="313.4" y1="231.7" x2="351.4" y2="233.6" stroke="rgba(255,255,255,0.7)" stroke-width="0.9" />
<line x1="351.4" y1="233.6" x2="375.1" y2="229.3" stroke="rgba(255,255,255,0.7)" stroke-width="0.9" />
<line x1="313.4" y1="231.7" x2="337.3" y2="227.5" stroke="rgba(255,255,255,0.7)" stroke-width="0.7" />
<line x1="337.3" y1="227.5" x2="375.1" y2="229.3" stroke="rgba(255,255,255,0.7)" stroke-width="0.7" />
<line x1="336.0" y1="1055.4" x2="313.4" y2="231.7" stroke="rgba(255,255,255,0.45)" stroke-width="0.8" />
<line x1="395.0" y1="1049.0" x2="375.1" y2="229.3" stroke="rgba(255,255,255,0.45)" stroke-width="0.8" />
<line x1="336.0" y1="1055.4" x2="372.5" y2="1061.2" stroke="rgba(255,255,255,0.45)" stroke-width="0.7" />
<line x1="372.5" y1="1061.2" x2="395.0" y2="1049.0" stroke="rgba(255,255,255,0.45)" stroke-width="0.7" />
</g>
<g>
<polygon points="430.3,1070.4 467.7,1076.4 489.6,1063.9 452.4,1058.1" fill="rgba(178,0,2,0.68)" />
<polygon points="452.4,1058.1 489.6,1063.9 473.7,234.2 434.9,232.4" fill="rgba(215,0,3,0.68)" />
<polygon points="430.3,1070.4 452.4,1058.1 434.9,232.4 411.6,236.7" fill="rgba(168,0,2,0.68)" />
<line x1="452.4" y1="1058.1" x2="434.9" y2="232.4" stroke="rgba(255,255,255,0.35)" stroke-width="0.8" />
<line x1="430.3" y1="1070.4" x2="452.4" y2="1058.1" stroke="rgba(255,255,255,0.35)" stroke-width="0.8" />
<line x1="452.4" y1="1058.1" x2="489.6" y2="1063.9" stroke="rgba(255,255,255,0.35)" stroke-width="0.8" />
<polygon points="430.3,1070.4 467.7,1076.4 450.7,238.6 411.6,236.7" fill="rgba(215,0,3,0.68)" />
<polygon points="467.7,1076.4 489.6,1063.9 473.7,234.2 450.7,238.6" fill="rgba(139,0,6,0.68)" />
<polygon points="411.6,236.7 450.7,238.6 473.7,234.2 434.9,232.4" fill="rgba(178,0,2,0.68)" />
<line x1="467.7" y1="1076.4" x2="450.7" y2="238.6" stroke="rgba(255,255,255,0.7)" stroke-width="0.9" />
<line x1="411.6" y1="236.7" x2="450.7" y2="238.6" stroke="rgba(255,255,255,0.7)" stroke-width="0.9" />
<line x1="450.7" y1="238.6" x2="473.7" y2="234.2" stroke="rgba(255,255,255,0.7)" stroke-width="0.9" />
<line x1="411.6" y1="236.7" x2="434.9" y2="232.4" stroke="rgba(255,255,255,0.7)" stroke-width="0.7" />
<line x1="434.9" y1="232.4" x2="473.7" y2="234.2" stroke="rgba(255,255,255,0.7)" stroke-width="0.7" />
<line x1="430.3" y1="1070.4" x2="411.6" y2="236.7" stroke="rgba(255,255,255,0.45)" stroke-width="0.8" />
<line x1="489.6" y1="1063.9" x2="473.7" y2="234.2" stroke="rgba(255,255,255,0.45)" stroke-width="0.8" />
<line x1="430.3" y1="1070.4" x2="467.7" y2="1076.4" stroke="rgba(255,255,255,0.45)" stroke-width="0.7" />
<line x1="467.7" y1="1076.4" x2="489.6" y2="1063.9" stroke="rgba(255,255,255,0.45)" stroke-width="0.7" />
</g>
<g>
<polygon points="527.1,1085.8 565.5,1091.9 586.6,1079.1 548.5,1073.1" fill="rgba(178,0,2,0.68)" />
<polygon points="548.5,1073.1 586.6,1079.1 575.5,284.5 535.8,282.4" fill="rgba(215,0,3,0.68)" />
<polygon points="527.1,1085.8 548.5,1073.1 535.8,282.4 513.3,287.3" fill="rgba(168,0,2,0.68)" />
<line x1="548.5" y1="1073.1" x2="535.8" y2="282.4" stroke="rgba(255,255,255,0.35)" stroke-width="0.8" />
<line x1="527.1" y1="1085.8" x2="548.5" y2="1073.1" stroke="rgba(255,255,255,0.35)" stroke-width="0.8" />
<line x1="548.5" y1="1073.1" x2="586.6" y2="1079.1" stroke="rgba(255,255,255,0.35)" stroke-width="0.8" />
<polygon points="527.1,1085.8 565.5,1091.9 553.3,289.4 513.3,287.3" fill="rgba(215,0,3,0.68)" />
<polygon points="565.5,1091.9 586.6,1079.1 575.5,284.5 553.3,289.4" fill="rgba(139,0,6,0.68)" />
<polygon points="513.3,287.3 553.3,289.4 575.5,284.5 535.8,282.4" fill="rgba(178,0,2,0.68)" />
<line x1="565.5" y1="1091.9" x2="553.3" y2="289.4" stroke="rgba(255,255,255,0.7)" stroke-width="0.9" />
<line x1="513.3" y1="287.3" x2="553.3" y2="289.4" stroke="rgba(255,255,255,0.7)" stroke-width="0.9" />
<line x1="553.3" y1="289.4" x2="575.5" y2="284.5" stroke="rgba(255,255,255,0.7)" stroke-width="0.9" />
<line x1="513.3" y1="287.3" x2="535.8" y2="282.4" stroke="rgba(255,255,255,0.7)" stroke-width="0.7" />
<line x1="535.8" y1="282.4" x2="575.5" y2="284.5" stroke="rgba(255,255,255,0.7)" stroke-width="0.7" />
<line x1="527.1" y1="1085.8" x2="513.3" y2="287.3" stroke="rgba(255,255,255,0.45)" stroke-width="0.8" />
<line x1="586.6" y1="1079.1" x2="575.5" y2="284.5" stroke="rgba(255,255,255,0.45)" stroke-width="0.8" />
<line x1="527.1" y1="1085.8" x2="565.5" y2="1091.9" stroke="rgba(255,255,255,0.45)" stroke-width="0.7" />
<line x1="565.5" y1="1091.9" x2="586.6" y2="1079.1" stroke="rgba(255,255,255,0.45)" stroke-width="0.7" />
</g>
<g>
<polygon points="626.4,1101.6 665.8,1107.9 686.2,1094.8 647.1,1088.6" fill="rgba(178,0,2,0.68)" />
<polygon points="647.1,1088.6 686.2,1094.8 681.8,590.1 641.7,586.4" fill="rgba(215,0,3,0.68)" />
<polygon points="626.4,1101.6 647.1,1088.6 641.7,586.4 620.3,594.5" fill="rgba(168,0,2,0.68)" />
<line x1="647.1" y1="1088.6" x2="641.7" y2="586.4" stroke="rgba(255,255,255,0.35)" stroke-width="0.8" />
<line x1="626.4" y1="1101.6" x2="647.1" y2="1088.6" stroke="rgba(255,255,255,0.35)" stroke-width="0.8" />
<line x1="647.1" y1="1088.6" x2="686.2" y2="1094.8" stroke="rgba(255,255,255,0.35)" stroke-width="0.8" />
<polygon points="626.4,1101.6 665.8,1107.9 660.8,598.3 620.3,594.5" fill="rgba(215,0,3,0.68)" />
<polygon points="665.8,1107.9 686.2,1094.8 681.8,590.1 660.8,598.3" fill="rgba(139,0,6,0.68)" />
<polygon points="620.3,594.5 660.8,598.3 681.8,590.1 641.7,586.4" fill="rgba(178,0,2,0.68)" />
<line x1="665.8" y1="1107.9" x2="660.8" y2="598.3" stroke="rgba(255,255,255,0.7)" stroke-width="0.9" />
<line x1="620.3" y1="594.5" x2="660.8" y2="598.3" stroke="rgba(255,255,255,0.7)" stroke-width="0.9" />
<line x1="660.8" y1="598.3" x2="681.8" y2="590.1" stroke="rgba(255,255,255,0.7)" stroke-width="0.9" />
<line x1="620.3" y1="594.5" x2="641.7" y2="586.4" stroke="rgba(255,255,255,0.7)" stroke-width="0.7" />
<line x1="641.7" y1="586.4" x2="681.8" y2="590.1" stroke="rgba(255,255,255,0.7)" stroke-width="0.7" />
<line x1="626.4" y1="1101.6" x2="620.3" y2="594.5" stroke="rgba(255,255,255,0.45)" stroke-width="0.8" />
<line x1="686.2" y1="1094.8" x2="681.8" y2="590.1" stroke="rgba(255,255,255,0.45)" stroke-width="0.8" />
<line x1="626.4" y1="1101.6" x2="665.8" y2="1107.9" stroke="rgba(255,255,255,0.45)" stroke-width="0.7" />
<line x1="665.8" y1="1107.9" x2="686.2" y2="1094.8" stroke="rgba(255,255,255,0.45)" stroke-width="0.7" />
</g>
<g>
<polygon points="728.3,1117.8 768.8,1124.3 788.4,1110.8 748.2,1104.5" fill="rgba(178,0,2,0.68)" />
<polygon points="748.2,1104.5 788.4,1110.8 788.0,1005.7 747.7,999.9" fill="rgba(215,0,3,0.68)" />
<polygon points="728.3,1117.8 748.2,1104.5 747.7,999.9 727.6,1012.2" fill="rgba(168,0,2,0.68)" />
<line x1="748.2" y1="1104.5" x2="747.7" y2="999.9" stroke="rgba(255,255,255,0.35)" stroke-width="0.8" />
<line x1="728.3" y1="1117.8" x2="748.2" y2="1104.5" stroke="rgba(255,255,255,0.35)" stroke-width="0.8" />
<line x1="748.2" y1="1104.5" x2="788.4" y2="1110.8" stroke="rgba(255,255,255,0.35)" stroke-width="0.8" />
<polygon points="728.3,1117.8 768.8,1124.3 768.3,1018.1 727.6,1012.2" fill="rgba(215,0,3,0.68)" />
<polygon points="768.8,1124.3 788.4,1110.8 788.0,1005.7 768.3,1018.1" fill="rgba(139,0,6,0.68)" />
<polygon points="727.6,1012.2 768.3,1018.1 788.0,1005.7 747.7,999.9" fill="rgba(178,0,2,0.68)" />
<line x1="768.8" y1="1124.3" x2="768.3" y2="1018.1" stroke="rgba(255,255,255,0.7)" stroke-width="0.9" />
<line x1="727.6" y1="1012.2" x2="768.3" y2="1018.1" stroke="rgba(255,255,255,0.7)" stroke-width="0.9" />
<line x1="768.3" y1="1018.1" x2="788.0" y2="1005.7" stroke="rgba(255,255,255,0.7)" stroke-width="0.9" />
<line x1="727.6" y1="1012.2" x2="747.7" y2="999.9" stroke="rgba(255,255,255,0.7)" stroke-width="0.7" />
<line x1="747.7" y1="999.9" x2="788.0" y2="1005.7" stroke="rgba(255,255,255,0.7)" stroke-width="0.7" />
<line x1="728.3" y1="1117.8" x2="727.6" y2="1012.2" stroke="rgba(255,255,255,0.45)" stroke-width="0.8" />
<line x1="788.4" y1="1110.8" x2="788.0" y2="1005.7" stroke="rgba(255,255,255,0.45)" stroke-width="0.8" />
<line x1="728.3" y1="1117.8" x2="768.8" y2="1124.3" stroke="rgba(255,255,255,0.45)" stroke-width="0.7" />
<line x1="768.8" y1="1124.3" x2="788.4" y2="1110.8" stroke="rgba(255,255,255,0.45)" stroke-width="0.7" />
</g>
<g>
<polygon points="832.9,1134.5 874.5,1141.1 893.3,1127.3 852.0,1120.8" fill="rgba(178,0,2,0.68)" />
<polygon points="852.0,1120.8 893.3,1127.3 893.5,1021.2 852.1,1015.2" fill="rgba(215,0,3,0.68)" />
<polygon points="832.9,1134.5 852.0,1120.8 852.1,1015.2 832.9,1027.9" fill="rgba(168,0,2,0.68)" />
<line x1="852.0" y1="1120.8" x2="852.1" y2="1015.2" stroke="rgba(255,255,255,0.35)" stroke-width="0.8" />
<line x1="832.9" y1="1134.5" x2="852.0" y2="1120.8" stroke="rgba(255,255,255,0.35)" stroke-width="0.8" />
<line x1="852.0" y1="1120.8" x2="893.3" y2="1127.3" stroke="rgba(255,255,255,0.35)" stroke-width="0.8" />
<polygon points="832.9,1134.5 874.5,1141.1 874.7,1034.0 832.9,1027.9" fill="rgba(215,0,3,0.68)" />
<polygon points="874.5,1141.1 893.3,1127.3 893.5,1021.2 874.7,1034.0" fill="rgba(139,0,6,0.68)" />
<polygon points="832.9,1027.9 874.7,1034.0 893.5,1021.2 852.1,1015.2" fill="rgba(178,0,2,0.68)" />
<line x1="874.5" y1="1141.1" x2="874.7" y2="1034.0" stroke="rgba(255,255,255,0.7)" stroke-width="0.9" />
<line x1="832.9" y1="1027.9" x2="874.7" y2="1034.0" stroke="rgba(255,255,255,0.7)" stroke-width="0.9" />
<line x1="874.7" y1="1034.0" x2="893.5" y2="1021.2" stroke="rgba(255,255,255,0.7)" stroke-width="0.9" />
<line x1="832.9" y1="1027.9" x2="852.1" y2="1015.2" stroke="rgba(255,255,255,0.7)" stroke-width="0.7" />
<line x1="852.1" y1="1015.2" x2="893.5" y2="1021.2" stroke="rgba(255,255,255,0.7)" stroke-width="0.7" />
<line x1="832.9" y1="1134.5" x2="832.9" y2="1027.9" stroke="rgba(255,255,255,0.45)" stroke-width="0.8" />
<line x1="893.3" y1="1127.3" x2="893.5" y2="1021.2" stroke="rgba(255,255,255,0.45)" stroke-width="0.8" />
<line x1="832.9" y1="1134.5" x2="874.5" y2="1141.1" stroke="rgba(255,255,255,0.45)" stroke-width="0.7" />
<line x1="874.5" y1="1141.1" x2="893.3" y2="1127.3" stroke="rgba(255,255,255,0.45)" stroke-width="0.7" />
</g>
<g>
<polygon points="940.4,1151.6 983.1,1158.4 1001.0,1144.2 958.6,1137.5" fill="rgba(178,0,2,0.68)" />
<polygon points="958.6,1137.5 1001.0,1144.2 1001.5,1086.0 959.0,1079.6" fill="rgba(215,0,3,0.68)" />
<polygon points="940.4,1151.6 958.6,1137.5 959.0,1079.6 940.7,1093.1" fill="rgba(168,0,2,0.68)" />
<line x1="958.6" y1="1137.5" x2="959.0" y2="1079.6" stroke="rgba(255,255,255,0.35)" stroke-width="0.8" />
<line x1="940.4" y1="1151.6" x2="958.6" y2="1137.5" stroke="rgba(255,255,255,0.35)" stroke-width="0.8" />
<line x1="958.6" y1="1137.5" x2="1001.0" y2="1144.2" stroke="rgba(255,255,255,0.35)" stroke-width="0.8" />
<polygon points="940.4,1151.6 983.1,1158.4 983.6,1099.6 940.7,1093.1" fill="rgba(215,0,3,0.68)" />
<polygon points="983.1,1158.4 1001.0,1144.2 1001.5,1086.0 983.6,1099.6" fill="rgba(139,0,6,0.68)" />
<polygon points="940.7,1093.1 983.6,1099.6 1001.5,1086.0 959.0,1079.6" fill="rgba(178,0,2,0.68)" />
<line x1="983.1" y1="1158.4" x2="983.6" y2="1099.6" stroke="rgba(255,255,255,0.7)" stroke-width="0.9" />
<line x1="940.7" y1="1093.1" x2="983.6" y2="1099.6" stroke="rgba(255,255,255,0.7)" stroke-width="0.9" />
<line x1="983.6" y1="1099.6" x2="1001.5" y2="1086.0" stroke="rgba(255,255,255,0.7)" stroke-width="0.9" />
<line x1="940.7" y1="1093.1" x2="959.0" y2="1079.6" stroke="rgba(255,255,255,0.7)" stroke-width="0.7" />
<line x1="959.0" y1="1079.6" x2="1001.5" y2="1086.0" stroke="rgba(255,255,255,0.7)" stroke-width="0.7" />
<line x1="940.4" y1="1151.6" x2="940.7" y2="1093.1" stroke="rgba(255,255,255,0.45)" stroke-width="0.8" />
<line x1="1001.0" y1="1144.2" x2="1001.5" y2="1086.0" stroke="rgba(255,255,255,0.45)" stroke-width="0.8" />
<line x1="940.4" y1="1151.6" x2="983.1" y2="1158.4" stroke="rgba(255,255,255,0.45)" stroke-width="0.7" />
<line x1="983.1" y1="1158.4" x2="1001.0" y2="1144.2" stroke="rgba(255,255,255,0.45)" stroke-width="0.7" />
</g>
<line x1="145.5" y1="1072.1" x2="112.1" y2="184.4" stroke="#000" stroke-width="3.6" stroke-linecap="square"/>
<line x1="145.5" y1="1072.1" x2="963.2" y2="1207.5" stroke="#000" stroke-width="3.6" stroke-linecap="square"/>
<line x1="963.2" y1="1207.5" x2="1278.1" y2="950.9" stroke="#000" stroke-width="3.6" stroke-linecap="butt"/>
<line x1="145.5" y1="1072.1" x2="133.9" y2="1077.9" stroke="#000" stroke-width="3.4"/>
<text transform="matrix(0.5799 -0.2881 0.0379 1.0068 127.18 1081.24)" x="0.0" y="13.2" text-anchor="end" font-size="40" stroke="#000" stroke-width="0.5" >1.350</text>
<line x1="142.6" y1="994.8" x2="130.8" y2="1000.3" stroke="#000" stroke-width="3.4"/>
<text transform="matrix(0.5858 -0.2727 0.0379 1.0068 124.04 1003.42)" x="0.0" y="13.2" text-anchor="end" font-size="40" stroke="#000" stroke-width="0.5" >1.375</text>
<line x1="139.7" y1="916.8" x2="127.8" y2="921.9" stroke="#000" stroke-width="3.4"/>
<text transform="matrix(0.5914 -0.2568 0.0379 1.0068 120.88 924.94)" x="0.0" y="13.2" text-anchor="end" font-size="40" stroke="#000" stroke-width="0.5" >1.400</text>
<line x1="136.7" y1="838.1" x2="124.7" y2="843.0" stroke="#000" stroke-width="3.4"/>
<text transform="matrix(0.5969 -0.2402 0.0379 1.0068 117.71 845.78)" x="0.0" y="13.2" text-anchor="end" font-size="40" stroke="#000" stroke-width="0.5" >1.425</text>
<line x1="133.7" y1="758.8" x2="121.5" y2="763.3" stroke="#000" stroke-width="3.4"/>
<text transform="matrix(0.6020 -0.2232 0.0379 1.0068 114.51 765.94)" x="0.0" y="13.2" text-anchor="end" font-size="40" stroke="#000" stroke-width="0.5" >1.450</text>
<line x1="130.7" y1="678.8" x2="118.4" y2="683.0" stroke="#000" stroke-width="3.4"/>
<text transform="matrix(0.6068 -0.2055 0.0379 1.0068 111.31 685.40)" x="0.0" y="13.2" text-anchor="end" font-size="40" stroke="#000" stroke-width="0.5" >1.475</text>
<line x1="127.7" y1="598.2" x2="115.3" y2="602.0" stroke="#000" stroke-width="3.4"/>
<text transform="matrix(0.6113 -0.1873 0.0379 1.0068 108.08 604.17)" x="0.0" y="13.2" text-anchor="end" font-size="40" stroke="#000" stroke-width="0.5" >1.500</text>
<line x1="124.6" y1="516.8" x2="112.1" y2="520.3" stroke="#000" stroke-width="3.4"/>
<text transform="matrix(0.6153 -0.1686 0.0379 1.0068 104.85 522.24)" x="0.0" y="13.2" text-anchor="end" font-size="40" stroke="#000" stroke-width="0.5" >1.525</text>
<line x1="121.5" y1="434.8" x2="108.9" y2="437.8" stroke="#000" stroke-width="3.4"/>
<text transform="matrix(0.6188 -0.1494 0.0379 1.0068 101.60 439.59)" x="0.0" y="13.2" text-anchor="end" font-size="40" stroke="#000" stroke-width="0.5" >1.550</text>
<line x1="118.4" y1="352.0" x2="105.7" y2="354.7" stroke="#000" stroke-width="3.4"/>
<text transform="matrix(0.6218 -0.1298 0.0379 1.0068 98.34 356.21)" x="0.0" y="13.2" text-anchor="end" font-size="40" stroke="#000" stroke-width="0.5" >1.575</text>
<line x1="115.3" y1="268.6" x2="102.5" y2="270.8" stroke="#000" stroke-width="3.4"/>
<text transform="matrix(0.6243 -0.1097 0.0379 1.0068 95.07 272.11)" x="0.0" y="13.2" text-anchor="end" font-size="40" stroke="#000" stroke-width="0.5" >1.600</text>
<line x1="112.1" y1="184.4" x2="99.2" y2="186.2" stroke="#000" stroke-width="3.4"/>
<text transform="matrix(0.6262 -0.0892 0.0379 1.0068 91.80 187.27)" x="0.0" y="13.2" text-anchor="end" font-size="40" stroke="#000" stroke-width="0.5" >1.625</text>
<line x1="191.2" y1="1079.7" x2="179.6" y2="1085.6" stroke="#000" stroke-width="3.4"/>
<text transform="matrix(0.7018 -0.3572 1.0852 0.1797 178.02 1087.72)" x="0.0" y="13.2" text-anchor="end" font-size="40" stroke="#000" stroke-width="0.5" >0.1</text>
<line x1="238.1" y1="1087.4" x2="231.0" y2="1091.1" stroke="#000" stroke-width="3.4"/>
<line x1="285.5" y1="1095.3" x2="274.1" y2="1101.4" stroke="#000" stroke-width="3.4"/>
<text transform="matrix(0.6942 -0.3719 1.0852 0.1797 272.50 1103.65)" x="0.0" y="13.2" text-anchor="end" font-size="40" stroke="#000" stroke-width="0.5" >0.3</text>
<line x1="333.6" y1="1103.3" x2="326.6" y2="1107.1" stroke="#000" stroke-width="3.4"/>
<line x1="382.3" y1="1111.3" x2="371.0" y2="1117.7" stroke="#000" stroke-width="3.4"/>
<text transform="matrix(0.6855 -0.3876 1.0852 0.1797 369.47 1120.02)" x="0.0" y="13.2" text-anchor="end" font-size="40" stroke="#000" stroke-width="0.5" >0.5</text>
<line x1="431.7" y1="1119.5" x2="424.7" y2="1123.5" stroke="#000" stroke-width="3.4"/>
<line x1="481.7" y1="1127.8" x2="470.5" y2="1134.5" stroke="#000" stroke-width="3.4"/>
<text transform="matrix(0.6756 -0.4046 1.0852 0.1797 469.04 1136.84)" x="0.0" y="13.2" text-anchor="end" font-size="40" stroke="#000" stroke-width="0.5" >0.7</text>
<line x1="532.3" y1="1136.2" x2="525.5" y2="1140.4" stroke="#000" stroke-width="3.4"/>
<line x1="583.7" y1="1144.7" x2="572.7" y2="1151.7" stroke="#000" stroke-width="3.4"/>
<text transform="matrix(0.6644 -0.4227 1.0852 0.1797 571.32 1154.13)" x="0.0" y="13.2" text-anchor="end" font-size="40" stroke="#000" stroke-width="0.5" >0.9</text>
<line x1="635.7" y1="1153.3" x2="629.1" y2="1157.7" stroke="#000" stroke-width="3.4"/>
<line x1="688.5" y1="1162.0" x2="677.8" y2="1169.3" stroke="#000" stroke-width="3.4"/>
<text transform="matrix(0.6516 -0.4423 1.0852 0.1797 676.42 1171.91)" x="0.0" y="13.2" text-anchor="end" font-size="40" stroke="#000" stroke-width="0.5" >1.1</text>
<line x1="742.0" y1="1170.9" x2="735.5" y2="1175.5" stroke="#000" stroke-width="3.4"/>
<line x1="796.2" y1="1179.9" x2="785.7" y2="1187.5" stroke="#000" stroke-width="3.4"/>
<text transform="matrix(0.6368 -0.4633 1.0852 0.1797 784.45 1190.20)" x="0.0" y="13.2" text-anchor="end" font-size="40" stroke="#000" stroke-width="0.5" >1.3</text>
<line x1="851.2" y1="1189.0" x2="844.8" y2="1193.8" stroke="#000" stroke-width="3.4"/>
<line x1="907.0" y1="1198.2" x2="896.7" y2="1206.2" stroke="#000" stroke-width="3.4"/>
<text transform="matrix(0.6198 -0.4858 1.0852 0.1797 895.56 1209.02)" x="0.0" y="13.2" text-anchor="end" font-size="40" stroke="#000" stroke-width="0.5" >1.5</text>
<line x1="963.2" y1="1207.5" x2="957.0" y2="1212.6" stroke="#000" stroke-width="3.4"/>
<text transform="matrix(1.3394 0.2212 -0.7253 0.4894 256.50 1165.50)" x="0.0" y="0.0" text-anchor="start" font-size="40" stroke="#000" stroke-width="0.5" ><tspan font-size="39.2">Noise </tspan><tspan font-size="41.5">amplitude</tspan></text>
<g>
<text transform="matrix(-0.0427 -1.1242 1.3615 -0.1925 41.50 672.00)" font-size="40" stroke="#000" stroke-width="0.4">S<tspan font-style="italic" font-size="26.4" dy="6">b</tspan></text>
</g>
<line x1="112.1" y1="184.4" x2="969.4" y2="221.4" stroke="#e6962e" stroke-width="1.5" stroke-dasharray="4 5.5"/>
<line x1="969.4" y1="221.4" x2="1296.7" y2="144.1" stroke="#e6962e" stroke-width="1.5" stroke-dasharray="4 5.5"/>
<line x1="969.4" y1="221.4" x2="963.2" y2="1207.5" stroke="#e6962e" stroke-width="1.5" stroke-dasharray="4 5.5"/>
<rect x="225.4" y="8.5" width="96.8" height="47.2" fill="#e04c4c"/>
<rect x="495.2" y="8.5" width="96.8" height="47.2" fill="#9bff5c"/>
<rect x="963.7" y="8.5" width="97.4" height="47.2" fill="#5050fa"/>
<text x="332" y="46.9" font-size="44.5">SMOTE</text>
<text x="604.5" y="46.9" font-size="44.5" word-spacing="-3.3">Borderline SMOTE</text>
<text x="1073" y="46.9" font-size="44.5">GSDC</text>
</svg>
</body></html>
